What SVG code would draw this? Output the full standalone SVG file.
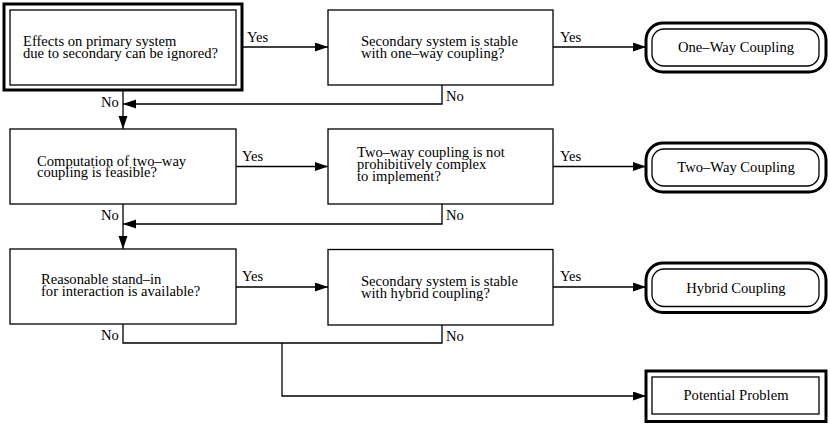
<svg xmlns="http://www.w3.org/2000/svg" width="830" height="424" viewBox="0 0 830 424" font-family="'Liberation Serif', 'Times New Roman', Times, 'DejaVu Serif', serif" font-size="14.6">
<style>
text{font-family:'Liberation Serif','Times New Roman',Times,'DejaVu Serif',serif;font-size:14.6px;fill:#000}
.box{fill:#fff;stroke:#000;stroke-width:1.3}
.thick{fill:#fff;stroke:#000;stroke-width:3}
.ln{fill:none;stroke:#000;stroke-width:1.3}
.mid{text-anchor:middle}
</style>
<defs>
<marker id="ah" markerWidth="14" markerHeight="10" refX="13" refY="4.5" orient="auto" markerUnits="userSpaceOnUse">
<path d="M0,0 L13,4.5 L0,9 Z" fill="#000"/>
</marker>
</defs>
<rect width="830" height="424" fill="#fff"/>
<g id="connectors">
<path class="ln" d="M242,47 H328" marker-end="url(#ah)"/>
<path class="ln" d="M553,47 H646" marker-end="url(#ah)"/>
<path class="ln" d="M442,85 V104 H123" marker-end="url(#ah)"/>
<path class="ln" d="M123,90 V129" marker-end="url(#ah)"/>
<path class="ln" d="M236,166.5 H328" marker-end="url(#ah)"/>
<path class="ln" d="M553,166.5 H646" marker-end="url(#ah)"/>
<path class="ln" d="M442,204 V224 H123" marker-end="url(#ah)"/>
<path class="ln" d="M123,204 V249" marker-end="url(#ah)"/>
<path class="ln" d="M236,287 H328" marker-end="url(#ah)"/>
<path class="ln" d="M553,287 H646" marker-end="url(#ah)"/>
<path class="ln" d="M123,324 V343 H442 V325"/>
<path class="ln" d="M282,343 V396 H646" marker-end="url(#ah)"/>
<text x="247" y="41.7">Yes</text>
<text x="560" y="41.7">Yes</text>
<text x="101" y="107">No</text>
<text x="446" y="101">No</text>
<text x="242" y="160.7">Yes</text>
<text x="560" y="160.7">Yes</text>
<text x="101" y="220">No</text>
<text x="446" y="220">No</text>
<text x="242" y="280.7">Yes</text>
<text x="560" y="280.7">Yes</text>
<text x="101" y="340">No</text>
<text x="446" y="340.5">No</text>
</g>
<g id="q1">
<rect class="thick" x="4" y="4" width="238" height="86"/>
<rect class="box" x="10" y="10" width="226" height="75"/>
<text x="23" y="45.7">Effects on primary system</text>
<text x="23" y="57.5">due to secondary can be ignored?</text>
</g>
<g id="q2">
<rect class="box" x="328" y="10" width="225" height="75"/>
<text x="361" y="45.7">Secondary system is stable</text>
<text x="361" y="57.7">with one–way coupling?</text>
</g>
<g id="t1">
<rect class="thick" x="646" y="23" width="180" height="49" rx="17"/>
<rect class="box" x="652" y="29" width="167" height="37" rx="12"/>
<text class="mid" x="736" y="52.3">One–Way Coupling</text>
</g>
<g id="q3">
<rect class="box" x="10" y="129" width="226" height="75"/>
<text x="37" y="165.5">Computation of two–way</text>
<text x="37" y="177.3">coupling is feasible?</text>
</g>
<g id="q4">
<rect class="box" x="328" y="129" width="225" height="75"/>
<text x="357" y="156.7">Two–way coupling is not</text>
<text x="357" y="169">prohibitively complex</text>
<text x="357" y="181.3">to implement?</text>
</g>
<g id="t2">
<rect class="thick" x="646" y="143" width="180" height="49" rx="17"/>
<rect class="box" x="652" y="149" width="167" height="37" rx="12"/>
<text class="mid" x="736" y="172.3">Two–Way Coupling</text>
</g>
<g id="q5">
<rect class="box" x="10" y="249" width="226" height="75"/>
<text x="41" y="284.3">Reasonable stand–in</text>
<text x="41" y="296.2">for interaction is available?</text>
</g>
<g id="q6">
<rect class="box" x="328" y="249.5" width="225" height="75.5"/>
<text x="361" y="285.7">Secondary system is stable</text>
<text x="361" y="297.8">with hybrid coupling?</text>
</g>
<g id="t3">
<rect class="thick" x="646" y="263" width="180" height="49.5" rx="17"/>
<rect class="box" x="652" y="269" width="167" height="37.5" rx="12"/>
<text class="mid" x="736" y="293.3">Hybrid Coupling</text>
</g>
<g id="t4">
<rect class="thick" x="646" y="371" width="180" height="50.5"/>
<rect class="box" x="652" y="377" width="167" height="37"/>
<text class="mid" x="736" y="400.3">Potential Problem</text>
</g>
</svg>
